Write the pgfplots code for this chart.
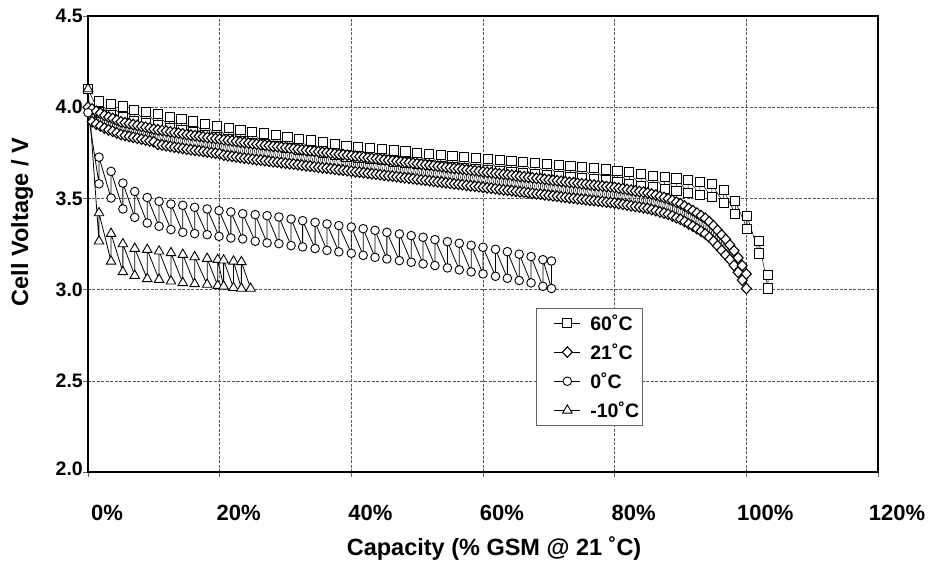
\documentclass[border=0pt]{standalone}
\usepackage{fontspec}
\setmainfont{Liberation Sans}
\usepackage{pgfplots}
\pgfplotsset{compat=1.18}
\newcommand{\xtickfont}{\fontsize{22bp}{26bp}\selectfont\bfseries}
\newcommand{\ytickfont}{\fontsize{19.5bp}{23bp}\selectfont\bfseries}
\newcommand{\labfont}{\fontsize{23.5bp}{28bp}\selectfont\bfseries}
\newcommand{\legfont}{\fontsize{19.5bp}{22bp}\selectfont\bfseries}
\begin{document}
\begin{tikzpicture}
\useasboundingbox (-88bp,-89bp) rectangle (841bp,472bp);
\begin{axis}[
  scale only axis, width=790bp, height=456bp,
  xmin=0, xmax=120, ymin=2, ymax=4.5,
  clip=false,
  xtick={0,20,40,60,80,100,120},
  xticklabels={0\%,20\%,40\%,60\%,80\%,100\%,120\%},
  ytick={2,2.5,3,3.5,4,4.5},
  yticklabels={\raisebox{7bp}{2.0},2.5,3.0,3.5,4.0,4.5},
  grid=major,
  major grid style={black!65, dash pattern=on 3bp off 1.5bp, line width=0.6bp},
  axis line style={line width=2.2bp},
  tick align=outside, xtick pos=left, ytick pos=left,
  major tick length=5bp, tick style={black!60, line width=0.6bp},
  xticklabel style={font=\xtickfont, anchor=base, yshift=-43bp, xshift=19bp},
  yticklabel style={font=\ytickfont, anchor=east, inner sep=0pt, xshift=0bp},
  xlabel={Capacity (\% GSM @ 21 ˚C)},
  ylabel={Cell Voltage / V},
  xlabel style={font=\labfont, at={(axis description cs:0.514,-0.184)}, anchor=base},
  ylabel style={font=\labfont, at={(axis description cs:-0.0835,0.548)}, anchor=center, rotate=0},
  legend style={at={(axis description cs:0.567,0.3596)}, anchor=north west,
    draw=black!60, line width=0.8bp, fill=white, font=\legfont,
    inner xsep=1bp, inner ysep=4bp, row sep=8bp},
  legend cell align=left,
  legend image code/.code={\path[draw=none] (-17bp,0bp) -- (34bp,0bp); \draw[mark repeat=2,mark phase=2,#1] plot coordinates {(0bp,0bp) (13bp,0bp) (26bp,0bp)};},
]
% 60 C
\addplot[black, line width=0.5bp, mark=square*, mark size=4.6bp, mark options={fill=white, draw=black, solid, line width=0.9bp}] coordinates {
(0,4.10)
(1.67,3.971)(1.67,4.031)(3.46,3.958)(3.46,4.018)(5.25,3.944)(5.25,4.004)(7.04,3.926)(7.04,3.986)
(8.83,3.914)(8.83,3.974)(10.62,3.903)(10.62,3.963)(12.41,3.887)(12.41,3.947)(14.20,3.875)(14.20,3.935)
(15.99,3.862)(15.99,3.922)(17.78,3.850)(17.78,3.910)(19.57,3.837)(19.57,3.897)(21.36,3.826)(21.36,3.886)
(23.15,3.816)(23.15,3.876)(24.94,3.806)(24.94,3.866)(26.73,3.796)(26.73,3.856)(28.52,3.786)(28.52,3.846)
(30.31,3.777)(30.31,3.837)(32.10,3.767)(32.10,3.827)(33.89,3.758)(33.89,3.818)(35.68,3.748)(35.68,3.808)
(37.47,3.738)(37.47,3.798)(39.26,3.729)(39.26,3.789)(41.05,3.721)(41.05,3.781)(42.84,3.715)(42.84,3.775)
(44.63,3.709)(44.63,3.769)(46.42,3.703)(46.42,3.763)(48.21,3.697)(48.21,3.757)(50.00,3.691)(50.00,3.751)
(51.79,3.685)(51.79,3.745)(53.58,3.679)(53.58,3.739)(55.37,3.673)(55.37,3.733)(57.16,3.667)(57.16,3.727)
(58.95,3.661)(58.95,3.721)(60.74,3.655)(60.74,3.715)(62.53,3.650)(62.53,3.710)(64.32,3.645)(64.32,3.705)
(66.11,3.639)(66.11,3.699)(67.90,3.634)(67.90,3.694)(69.69,3.629)(69.69,3.689)(71.48,3.624)(71.48,3.684)
(73.27,3.619)(73.27,3.679)(75.06,3.613)(75.06,3.673)(76.85,3.606)(76.85,3.666)(78.64,3.599)(78.64,3.659)
(80.43,3.592)(80.43,3.652)(82.22,3.578)(82.22,3.643)(84.01,3.567)(84.01,3.632)(85.80,3.560)(85.80,3.625)
(87.59,3.553)(87.59,3.618)(89.38,3.539)(89.38,3.609)(91.17,3.532)(91.17,3.602)(92.96,3.521)(92.96,3.591)
(94.75,3.509)(94.75,3.579)(96.54,3.475)(96.54,3.545)(98.33,3.414)(98.33,3.484)(100.12,3.334)(100.12,3.404)
(101.91,3.198)(101.91,3.268)(103.30,3.006)(103.30,3.079)
};
\addlegendentry{60˚C}
% 21 C
\addplot[black, line width=0.45bp, mark=diamond*, mark size=5.3bp, mark options={fill=white, draw=black, solid, line width=1.1bp, xscale=1.25}] coordinates {
(0,4.00)
(0.625,3.920)(0.625,3.990)(1.25,3.908)(1.25,3.978)(1.875,3.897)(1.875,3.967)(2.5,3.885)(2.5,3.955)
(3.125,3.876)(3.125,3.946)(3.75,3.868)(3.75,3.938)(4.375,3.859)(4.375,3.929)(5,3.850)(5,3.920)
(5.625,3.845)(5.625,3.915)(6.25,3.840)(6.25,3.910)(6.875,3.835)(6.875,3.905)(7.5,3.830)(7.5,3.900)
(8.125,3.825)(8.125,3.895)(8.75,3.820)(8.75,3.890)(9.375,3.815)(9.375,3.885)(10,3.810)(10,3.880)
(10.625,3.796)(10.625,3.876)(11.25,3.793)(11.25,3.873)(11.875,3.789)(11.875,3.869)(12.5,3.785)(12.5,3.865)
(13.125,3.781)(13.125,3.861)(13.75,3.778)(13.75,3.858)(14.375,3.774)(14.375,3.854)(15,3.770)(15,3.850)
(15.625,3.767)(15.625,3.847)(16.25,3.764)(16.25,3.844)(16.875,3.761)(16.875,3.841)(17.5,3.758)(17.5,3.838)
(18.125,3.754)(18.125,3.834)(18.75,3.751)(18.75,3.831)(19.375,3.748)(19.375,3.828)(20,3.745)(20,3.825)
(20.625,3.737)(20.625,3.822)(21.25,3.734)(21.25,3.819)(21.875,3.731)(21.875,3.816)(22.5,3.728)(22.5,3.813)
(23.125,3.724)(23.125,3.809)(23.75,3.721)(23.75,3.806)(24.375,3.718)(24.375,3.803)(25,3.715)(25,3.800)
(25.625,3.712)(25.625,3.797)(26.25,3.710)(26.25,3.795)(26.875,3.707)(26.875,3.792)(27.5,3.704)(27.5,3.789)
(28.125,3.701)(28.125,3.786)(28.75,3.699)(28.75,3.784)(29.375,3.696)(29.375,3.781)(30,3.693)(30,3.778)
(30.625,3.690)(30.625,3.775)(31.25,3.688)(31.25,3.773)(31.875,3.685)(31.875,3.770)(32.5,3.682)(32.5,3.767)
(33.125,3.679)(33.125,3.764)(33.75,3.677)(33.75,3.762)(34.375,3.674)(34.375,3.759)(35,3.671)(35,3.756)
(35.625,3.668)(35.625,3.753)(36.25,3.666)(36.25,3.751)(36.875,3.663)(36.875,3.748)(37.5,3.660)(37.5,3.745)
(38.125,3.657)(38.125,3.742)(38.75,3.655)(38.75,3.740)(39.375,3.652)(39.375,3.737)(40,3.649)(40,3.734)
(40.625,3.646)(40.625,3.731)(41.25,3.644)(41.25,3.729)(41.875,3.641)(41.875,3.726)(42.5,3.638)(42.5,3.723)
(43.125,3.635)(43.125,3.720)(43.75,3.633)(43.75,3.718)(44.375,3.630)(44.375,3.715)(45,3.627)(45,3.712)
(45.625,3.624)(45.625,3.709)(46.25,3.622)(46.25,3.707)(46.875,3.619)(46.875,3.704)(47.5,3.616)(47.5,3.701)
(48.125,3.613)(48.125,3.698)(48.75,3.611)(48.75,3.696)(49.375,3.608)(49.375,3.693)(50,3.605)(50,3.690)
(50.625,3.602)(50.625,3.687)(51.25,3.600)(51.25,3.685)(51.875,3.597)(51.875,3.682)(52.5,3.594)(52.5,3.679)
(53.125,3.591)(53.125,3.676)(53.75,3.589)(53.75,3.674)(54.375,3.586)(54.375,3.671)(55,3.583)(55,3.668)
(55.625,3.580)(55.625,3.665)(56.25,3.578)(56.25,3.663)(56.875,3.575)(56.875,3.660)(57.5,3.572)(57.5,3.657)
(58.125,3.569)(58.125,3.654)(58.75,3.567)(58.75,3.652)(59.375,3.564)(59.375,3.649)(60,3.561)(60,3.646)
(60.625,3.558)(60.625,3.643)(61.25,3.556)(61.25,3.641)(61.875,3.553)(61.875,3.638)(62.5,3.550)(62.5,3.635)
(63.125,3.547)(63.125,3.632)(63.75,3.545)(63.75,3.630)(64.375,3.542)(64.375,3.627)(65,3.539)(65,3.624)
(65.625,3.536)(65.625,3.621)(66.25,3.534)(66.25,3.619)(66.875,3.531)(66.875,3.616)(67.5,3.528)(67.5,3.613)
(68.125,3.525)(68.125,3.610)(68.75,3.523)(68.75,3.608)(69.375,3.520)(69.375,3.605)(70,3.517)(70,3.602)
(70.625,3.514)(70.625,3.599)(71.25,3.512)(71.25,3.597)(71.875,3.509)(71.875,3.594)(72.5,3.506)(72.5,3.591)
(73.125,3.503)(73.125,3.588)(73.75,3.501)(73.75,3.586)(74.375,3.498)(74.375,3.583)(75,3.495)(75,3.580)
(75.625,3.493)(75.625,3.578)(76.25,3.490)(76.25,3.575)(76.875,3.488)(76.875,3.573)(77.5,3.485)(77.5,3.570)
(78.125,3.483)(78.125,3.568)(78.75,3.480)(78.75,3.565)(79.375,3.478)(79.375,3.563)(80,3.475)(80,3.560)
(80.625,3.471)(80.625,3.556)(81.25,3.468)(81.25,3.553)(81.875,3.464)(81.875,3.549)(82.5,3.460)(82.5,3.545)
(83.125,3.456)(83.125,3.541)(83.75,3.453)(83.75,3.538)(84.375,3.449)(84.375,3.534)(85,3.445)(85,3.530)
(85.625,3.439)(85.625,3.524)(86.25,3.433)(86.25,3.518)(86.875,3.426)(86.875,3.511)(87.5,3.420)(87.5,3.505)
(88.125,3.413)(88.125,3.498)(88.75,3.404)(88.75,3.489)(89.375,3.394)(89.375,3.479)(90,3.385)(90,3.470)
(90.625,3.373)(90.625,3.458)(91.25,3.360)(91.25,3.445)(91.875,3.348)(91.875,3.433)(92.5,3.334)(92.5,3.419)
(93.125,3.320)(93.125,3.405)(93.75,3.306)(93.75,3.391)(94.375,3.287)(94.375,3.372)(95,3.265)(95,3.350)
(95.625,3.240)(95.625,3.325)(96.25,3.215)(96.25,3.300)(96.875,3.190)(96.875,3.275)(97.5,3.165)(97.5,3.245)
(98.125,3.133)(98.125,3.213)(98.75,3.095)(98.75,3.175)(99.375,3.052)(99.375,3.132)(100,3.006)(100,3.086)
};
\addlegendentry{21˚C}
% 0 C
\addplot[black, line width=0.8bp, mark=*, mark size=4.3bp, mark options={fill=white, draw=black, solid, line width=0.9bp}] coordinates {
(0,3.97)
(1.67,3.580)(1.67,3.726)(3.50,3.502)(3.50,3.648)(5.30,3.442)(5.30,3.584)(7.10,3.396)(7.10,3.538)
(9.00,3.365)(9.00,3.505)(10.80,3.347)(10.80,3.484)(12.60,3.329)(12.60,3.469)(14.40,3.314)(14.40,3.462)
(16.20,3.307)(16.20,3.451)(18.10,3.301)(18.10,3.442)(19.90,3.292)(19.90,3.433)(21.70,3.283)(21.70,3.426)
(23.50,3.278)(23.50,3.416)(25.40,3.265)(25.40,3.411)(27.20,3.256)(27.20,3.405)(29.00,3.252)(29.00,3.398)
(30.85,3.241)(30.85,3.387)(32.60,3.234)(32.60,3.378)(34.50,3.225)(34.50,3.369)(36.30,3.215)(36.30,3.360)
(38.10,3.207)(38.10,3.351)(40.00,3.199)(40.00,3.343)(41.80,3.188)(41.80,3.334)(43.60,3.177)(43.60,3.325)
(45.40,3.168)(45.40,3.314)(47.30,3.159)(47.30,3.305)(49.10,3.150)(49.10,3.296)(50.90,3.141)(50.90,3.287)
(52.70,3.132)(52.70,3.274)(54.60,3.119)(54.60,3.263)(56.40,3.108)(56.40,3.254)(58.20,3.097)(58.20,3.243)
(60.00,3.086)(60.00,3.232)(61.90,3.073)(61.90,3.221)(63.70,3.062)(63.70,3.208)(65.50,3.050)(65.50,3.194)
(67.30,3.037)(67.30,3.181)(69.10,3.018)(69.10,3.164)(70.40,3.006)(70.40,3.157)
};
\addlegendentry{0˚C}
% -10 C
\addplot[black, line width=0.8bp, mark=triangle*, mark size=5.5bp, mark options={fill=white, draw=black, solid, line width=0.9bp}] coordinates {
(0,4.10)
(1.67,3.265)(1.67,3.420)(3.50,3.155)(3.50,3.307)(5.30,3.097)(5.30,3.250)(7.10,3.077)(7.10,3.225)
(9.00,3.059)(9.00,3.219)(10.80,3.055)(10.80,3.210)(12.60,3.046)(12.60,3.201)(14.40,3.037)(14.40,3.192)
(16.20,3.031)(16.20,3.179)(18.10,3.028)(18.10,3.170)(19.70,3.022)(19.70,3.164)(20.60,3.018)(20.60,3.161)
(22.10,3.010)(22.10,3.155)(23.30,3.006)(23.30,3.152)(24.70,3.006)
};
\addlegendentry{-10˚C}
\end{axis}
\end{tikzpicture}
\end{document}
